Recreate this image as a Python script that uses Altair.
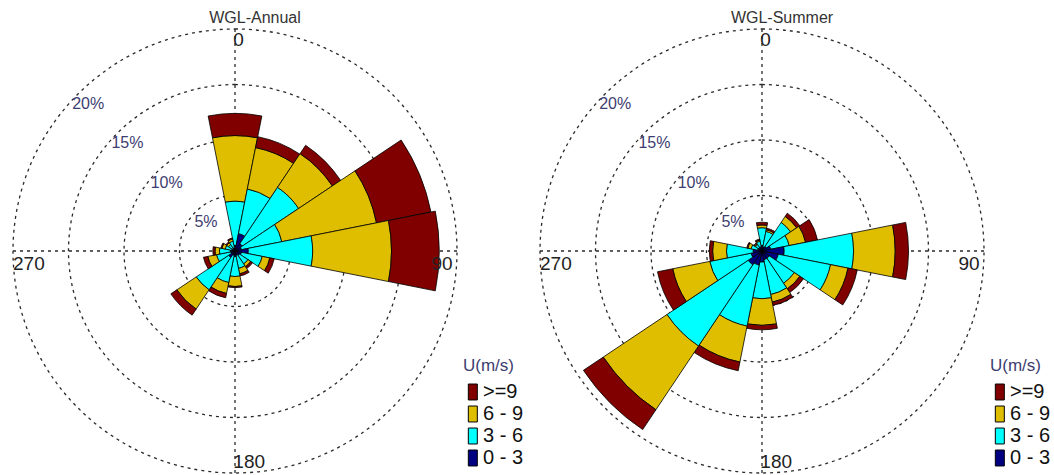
import math
import altair as alt
import pandas as pd

# ---------------- data (% frequency) ----------------
DIRS = [0, 22.5, 45, 67.5, 90, 112.5, 135, 157.5,
        180, 202.5, 225, 247.5, 270, 292.5, 315, 337.5]
BANDS = ["0 - 3", "3 - 6", "6 - 9", ">=9"]

ANNUAL_0_3 = [0.5, 1.6, 0.8, 0.6, 1.2, 0.6, 0.5, 0.4, 0.5, 0.4, 0.7, 0.4, 0.4, 0.3, 0.3, 0.3]
ANNUAL_3_6 = [4.0, 4.1, 6.1, 3.7, 5.8, 1.9, 0.9, 1.2, 1.8, 2.5, 3.5, 1.3, 1.0, 0.6, 0.4, 0.6]
ANNUAL_6_9 = [5.9, 3.8, 3.65, 8.7, 7.1, 0.7, 0.3, 0.5, 0.9, 1.0, 2.1, 0.8, 0.4, 0.3, 0.2, 0.2]
ANNUAL_9P = [2.0, 1.0, 0.9, 5.0, 4.3, 0.4, 0.2, 0.2, 0.1, 0.4, 0.65, 0.4, 0.2, 0.1, 0.1, 0.1]

SUMMER_0_3 = [0.5, 0.4, 0.5, 0.8, 2.0, 1.5, 0.8, 0.8, 1.0, 1.3, 1.5, 1.0, 0.8, 0.4, 0.4, 0.4]
SUMMER_3_6 = [1.6, 1.4, 2.6, 1.7, 6.25, 4.8, 2.7, 3.2, 3.3, 5.6, 8.8, 3.8, 2.4, 0.6, 0.3, 0.5]
SUMMER_6_9 = [0.25, 0.15, 0.65, 1.5, 3.75, 1.6, 0.6, 0.7, 2.4, 3.3, 6.9, 3.4, 1.25, 0.3, 0.1, 0.1]
SUMMER_9P = [0.25, 0.15, 0.35, 1.1, 1.2, 0.85, 0.4, 0.3, 0.4, 0.8, 2.15, 1.4, 0.3, 0.1, 0.1, 0.1]

RINGS = [5, 10, 15, 20]
RING_LABELS = ["5%", "10%", "15%", "20%"]
COMPASS = ["0", "90", "180", "270"]
TITLES = ["WGL-Annual", "WGL-Summer"]
LEGEND_ORDER = [">=9", "6 - 9", "3 - 6", "0 - 3"]
LEGEND_COLORS = ["#800000", "#DFBE00", "#00FFFF", "#000080"]

# ---------------- layout ----------------
W, H = 527, 475          # each panel
CX, CY = 235, 251        # rose centre inside a panel (px)
PX = 11.1                # pixels per 1 %
HALF = 11.25             # half sector width (deg)
FONT = "Liberation Sans"

xs = alt.Scale(domain=[-CX / PX, (W - CX) / PX], nice=False, zero=False)
ys = alt.Scale(domain=[-(H - CY) / PX, CY / PX], nice=False, zero=False)
rs = alt.Scale(type="linear", domain=[0, 20], range=[0, 20 * PX], nice=False, zero=True)
ts = alt.Scale(type="linear", domain=[0, 360], range=[0, 2 * math.pi], nice=False, zero=False)


def sectors(bands):
    rows = []
    for i, d in enumerate(DIRS):
        lo = 0.0
        for name, vals in zip(BANDS, bands):
            hi = lo + vals[i]
            rows.append(dict(dir=d, band=name, r0=lo, r1=hi,
                             t0=d - HALF, t1=d + HALF, cx=0.0, cy=0.0))
            lo = hi
    return pd.DataFrame(rows)


def panel(title, bands):
    X = lambda f: alt.X(f, scale=xs, axis=None)
    Y = lambda f: alt.Y(f, scale=ys, axis=None)

    rings = pd.DataFrame(dict(r=RINGS, cx=0.0, cy=0.0))
    ring_layer = alt.Chart(rings).mark_arc(
        filled=False, stroke="#2a2a2a", strokeWidth=1.3, strokeDash=[3, 4],
        theta=0, theta2=2 * math.pi
    ).encode(x=X("cx:Q"), y=Y("cy:Q"),
             radius=alt.Radius("r:Q", scale=rs, stack=None))

    cross = pd.DataFrame(dict(x1=[-20.0, 0.0], y1=[0.0, -20.0], x2=[20.0, 0.0], y2=[0.0, 20.0]))
    cross_layer = alt.Chart(cross).mark_rule(
        color="#2a2a2a", strokeWidth=1.3, strokeDash=[3, 4]
    ).encode(x=X("x1:Q"), y=Y("y1:Q"), x2="x2:Q", y2="y2:Q")

    df = sectors(bands)
    sector_layer = alt.Chart(df).mark_arc(stroke="black", strokeWidth=0.8).encode(
        x=X("cx:Q"), y=Y("cy:Q"),
        theta=alt.Theta("t0:Q", scale=ts, stack=None), theta2="t1:Q",
        radius=alt.Radius("r1:Q", scale=rs, stack=None), radius2="r0:Q",
        color=alt.Color(
            "band:N",
            scale=alt.Scale(domain=LEGEND_ORDER, range=LEGEND_COLORS),
            legend=alt.Legend(
                title="U(m/s)", orient="none", legendX=463, legendY=358,
                symbolType="M-0.78,-1.33H0.72V1.33H-0.78Z", symbolSize=144,
                symbolStrokeColor="black", symbolStrokeWidth=1, symbolOpacity=1,
                labelFontSize=20, labelFont=FONT, labelColor="#111111", labelOffset=0,
                titleFontSize=17, titleFont=FONT, titleColor="#3d3d70",
                titleFontWeight="normal", titlePadding=7, rowPadding=2, padding=0,
            ),
        ),
    )

    lab = pd.DataFrame(dict(ring=RINGS, text=RING_LABELS))
    rr = lab["ring"] - 1.3
    lab["lx"] = -rr * math.sin(math.radians(45))
    lab["ly"] = rr * math.cos(math.radians(45))
    lab_layer = alt.Chart(lab).mark_text(
        font=FONT, fontSize=16, color="#3d3d70", align="center", baseline="middle"
    ).encode(x=X("lx:Q"), y=Y("ly:Q"), text="text:N")

    comp = pd.DataFrame(dict(text=COMPASS))
    comp["lx"] = [-0.15, 18.65, -0.15, -20.0]
    comp["ly"] = [19.0, -1.15, -19.0, -1.15]
    comp["al"] = ["left", "center", "left", "left"]
    comp_left = alt.Chart(comp[comp["al"] == "left"]).mark_text(
        font=FONT, fontSize=19, color="#222222", align="left", baseline="middle"
    ).encode(x=X("lx:Q"), y=Y("ly:Q"), text="text:N")
    comp_center = alt.Chart(comp[comp["al"] == "center"]).mark_text(
        font=FONT, fontSize=19, color="#222222", align="center", baseline="middle"
    ).encode(x=X("lx:Q"), y=Y("ly:Q"), text="text:N")

    ttl = pd.DataFrame(dict(text=[title], lx=[(255 - CX) / PX], ly=[(CY - 17.5) / PX]))
    ttl_layer = alt.Chart(ttl).mark_text(
        font=FONT, fontSize=16, color="#333333", align="center", baseline="middle"
    ).encode(x=X("lx:Q"), y=Y("ly:Q"), text="text:N")

    return alt.layer(ring_layer, cross_layer, sector_layer, lab_layer,
                     comp_left, comp_center, ttl_layer).properties(width=W, height=H)


left = panel(TITLES[0], [ANNUAL_0_3, ANNUAL_3_6, ANNUAL_6_9, ANNUAL_9P])
right = panel(TITLES[1], [SUMMER_0_3, SUMMER_3_6, SUMMER_6_9, SUMMER_9P])

chart = alt.hconcat(left, right, spacing=0, bounds="flush").resolve_scale(
    color="independent", x="independent", y="independent",
    radius="independent", theta="independent"
).resolve_legend(color="independent").properties(
    padding=0, background="white"
).configure_view(strokeOpacity=0)

chart.save("out.html", embed_options={"renderer": "svg", "actions": False})
